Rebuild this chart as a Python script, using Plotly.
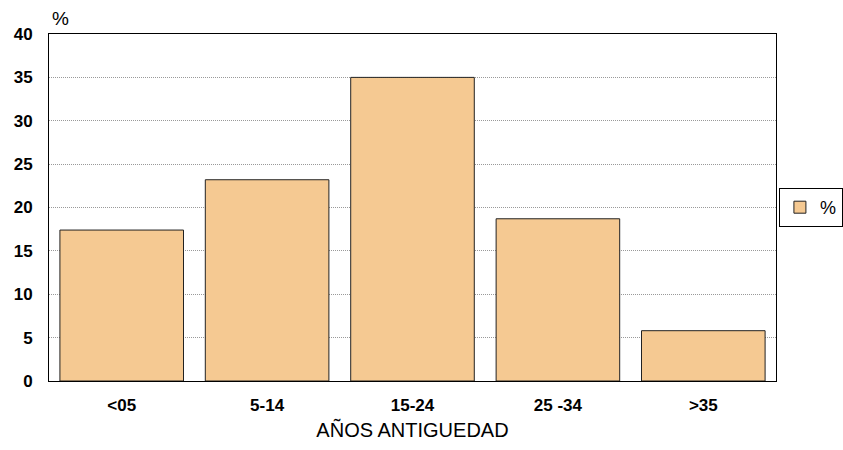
import plotly.graph_objects as go

categories = ["<05", "5-14", "15-24", "25 -34", ">35"]
values = [17.4, 23.2, 35.0, 18.7, 5.8]
y_ticks = [0, 5, 10, 15, 20, 25, 30, 35, 40]

fig = go.Figure()
fig.add_trace(go.Bar(
    x=categories, y=values, name="%",
    marker=dict(color="#F5C992", line=dict(color="#222222", width=1)),
))

FONT = "Liberation Sans, Arial"
fig.update_layout(
    width=843, height=450,
    margin=dict(l=49, r=67, t=34, b=69, autoexpand=False),
    paper_bgcolor="white", plot_bgcolor="white",
    bargap=0.15,
    font=dict(family=FONT, color="black"),
    showlegend=True,
    legend=dict(x=1.004, y=0.5, xanchor="left", yanchor="middle",
                bordercolor="black", borderwidth=1, bgcolor="white",
                font=dict(size=18), itemwidth=30, tracegroupgap=0),
    xaxis=dict(
        showline=True, linecolor="black", linewidth=1, mirror=True,
        tickfont=dict(size=17, family=FONT, weight="bold"),
        ticks="", ticklabelstandoff=9,
        title=dict(text="AÑOS ANTIGUEDAD", font=dict(size=20), standoff=8),
    ),
    yaxis=dict(
        range=[0, 40], tickvals=y_ticks, showline=True, linecolor="black",
        linewidth=1, mirror=True, showgrid=True, gridcolor="#999999",
        griddash="1px,1px", gridwidth=1, zeroline=False,
        tickfont=dict(size=17, family=FONT, weight="bold"),
        ticks="", ticklabelstandoff=12,
    ),
    annotations=[dict(text="%", x=0, y=1, xref="paper", yref="paper",
                      xanchor="left", yanchor="bottom", xshift=1, yshift=3,
                      showarrow=False, font=dict(size=19))],
)

fig.write_html("out.html", config={"displayModeBar": False},
               post_script="document.body.style.margin='0';")
